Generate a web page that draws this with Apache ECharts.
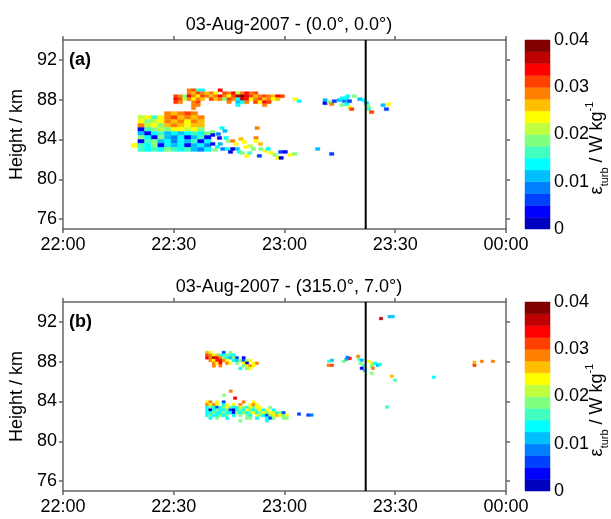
<!DOCTYPE html>
<html><head><meta charset="utf-8">
<script src="https://cdn.jsdelivr.net/npm/echarts@6/dist/echarts.min.js"></script>
<style>html,body{margin:0;padding:0;background:#fff;}#c{width:611px;height:519px;}</style>
</head><body><div id="c"></div>
<script>
// ---------- axes / labels ----------
const timeTicks = [0, 30, 60, 90, 120];            // minutes after 22:00
const timeLabels = ['22:00', '22:30', '23:00', '23:30', '00:00'];
const heightTicks = [76, 80, 84, 88, 92];
const heightMin = 75, heightMax = 94;
const epsTicks = [0, 0.01, 0.02, 0.03, 0.04];
const levelEdges = [0, 0.0025, 0.005, 0.0075, 0.01, 0.0125, 0.015, 0.0175, 0.02, 0.0225, 0.025, 0.0275, 0.03, 0.0325, 0.035, 0.0375, 0.04];
const markerTime = 82;                               // 23:22
const titleA = '03-Aug-2007 - (0.0°, 0.0°)';
const titleB = '03-Aug-2007 - (315.0°, 7.0°)';

// ---------- data: epsilon in 1e-3 W/kg (0 = no data) ----------
// Panel (a) lower block: [height, values from start time aLowT0]
const aLowT0 = 18.5;
const aLowRows = [
  [86.4, [0,0,0,0,0,29,26,29,31,29]],
  [86.0, [0,21,24,16,24,29,31,26,29,26,29]],
  [85.6, [0,24,19,21,24,29,26,29,24,29,26]],
  [85.2, [0,29,21,24,19,26,29,26,24,26,26]],
  [84.8, [0,4,16,19,21,19,24,24,21,24,19]],
  [84.4, [0,11,4,14,16,11,14,11,14,16,14,19]],
  [84.0, [0,19,14,4,19,11,9,14,4,11,16,4]],
  [83.6, [0,4,16,19,11,14,9,14,11,16,4,14]],
  [83.2, [24,16,14,19,4,14,11,14,4,11,14,9]],
  [82.8, [0,16,14,16,14,19,16,14,16,11,9,14]]
];
// Panel (a) upper band
const aUpT0 = 30;
const aUpRows = [
  [88.8, [0,0,0,29,31,16,14,0,0,0,34]],
  [88.5, [0,0,0,29,26,31,29,26,29,24,0,31,29,34,21,29,34,29,31]],
  [88.2, [31,29,19,34,29,24,31,29,26,29,34,29,24,31,36,39,34,31,26,29,31,29,26,34,31]],
  [87.9, [34,31,21,29,24,29,26,0,31,26,29,19,31,29,14,36,34,24,29,31,26,29,24,26]],
  [87.6, [31,29,0,0,29,31,0,0,0,0,0,0,29,0,11,14,29,0,31,24,34,31]],
  [87.3, [0,0,0,0,29,29,0,0,0,0,0,0,0,0,14,0,0,0,0,0,29]],
  [87.0, [0,0,0,0,29]]
];
// Panel (a) scattered cells: [time, height, value]
const aScatter = [
  [42.5,85.0,14],[43.3,84.7,11],[52.0,85.0,29],
  [40.0,84.6,19],[40.0,84.3,4],[41.5,84.4,9],
  [41.8,84.0,4],[43.6,84.0,14],[44.2,83.7,19],[45.4,83.7,29],[46.3,83.4,24],[47.6,83.9,26],[48.5,83.6,24],
  [40.0,83.4,4],[41.2,83.1,14],[40.6,82.8,19],[42.0,83.4,11],
  [42.7,82.9,9],[43.9,82.9,14],[44.8,82.6,4],
  [45.4,82.9,1],[46.6,82.9,11],[47.2,82.6,14],
  [49.0,83.1,24],[50.2,83.2,21],[51.0,82.9,19],
  [51.7,84.0,29],[51.7,83.7,24],[52.9,83.4,26],
  [53.0,82.9,19],[54.2,82.7,24],[55.0,82.9,14],
  [52.6,82.2,6],[55.7,82.5,24],[56.9,82.3,19],[57.5,82.0,24],
  [58.4,82.6,6],[59.6,82.6,4],[58.5,82.0,1],
  [61.0,82.3,24],[62.2,82.4,19],
  [48.0,82.5,19],[49.2,82.2,24],[50.0,82.5,16],
  [62.3,87.9,24],[63.4,87.7,14],
  [70.4,87.8,11],[70.4,87.5,4],[71.5,87.6,19],[72.2,87.4,29],[72.9,87.7,6],
  [74.2,87.8,11],[75.0,88.0,14],[75.6,87.7,9],[76.2,88.0,14],[75.0,87.3,19],[76.3,87.4,14],[77.0,87.7,6],[77.0,87.1,24],[77.6,86.9,31],[76.5,88.2,14],
  [78.3,88.2,19],[79.8,87.9,11],
  [81.0,87.8,14],[81.6,87.5,11],[82.0,87.2,19],[82.2,86.9,16],[83.0,86.6,31],
  [86.1,87.3,12],[87.6,87.4,24],[87.0,86.9,6],
  [68.4,82.9,12],[72.2,82.4,6]
];
// Panel (b) upper cluster
const bUpT0 = 38.6;
const bUpRows = [
  [88.79, [26,24,0,0,0,6,0,19]],
  [88.52, [31,29,24,26,16,14,19,16,14]],
  [88.25, [34,29,36,34,29,19,14,11,19,6,0,4]],
  [87.98, [0,29,24,34,34,29,24,0,14,11,19,6,19,24]],
  [87.71, [0,0,29,24,34,0,29,24,0,19,0,24,1,0,24,29]],
  [87.44, [0,0,29,0,29,0,0,0,0,0,0,19,24,29,24]],
  [87.17, [0,0,0,0,0,0,0,0,0,0,14,0,19,24]]
];
// Panel (b) lower band
const bLowT0 = 38.6;
const bLowRows = [
  [83.81, [24,29,0,24,0,6,0,0,0,0,0,29,0,0,24]],
  [83.54, [29,24,29,24,0,14,24,0,24,0,29,0,0,24,29,24]],
  [83.27, [14,19,14,6,14,19,24,19,14,14,24,19,14,24,19,24,24,0,0,19]],
  [83.00, [14,1,14,19,14,14,19,6,1,14,19,14,24,19,14,19,24,14,24,0,14]],
  [82.73, [14,14,19,14,14,19,14,14,4,19,14,19,14,19,24,14,19,24,19,24,24,14,19,6]],
  [82.46, [14,19,14,14,19,14,19,0,14,0,19,0,19,14,0,24,19,14,6,19,24,26,24,19,24]],
  [82.19, [0,14,0,19,0,0,14,0,0,0,0,0,19,19,0,14,0,0,14,6,19,0,0,19,19]],
  [81.92, [0,0,0,0,0,0,0,0,0,0,19,0,0,0,0,0,0,0,14]]
];
// Panel (b) scattered cells
const bScatter = [
  [45.0,84.9,29],[43.2,84.5,19],[46.2,84.2,34],
  [63.5,82.6,6],[66.0,82.5,6],[66.9,82.5,9],
  [71.6,87.9,16],[72.4,88.0,11],[71.5,87.5,29],[72.4,87.5,31],[75.6,87.9,19],[76.3,88.1,11],[77.2,88.2,34],[76.6,88.3,9],
  [79.5,88.4,29],[79.8,88.1,16],[80.5,88.0,11],[80.1,87.7,19],[81.0,87.5,16],[80.5,87.2,4],[81.3,87.0,11],
  [82.4,87.9,24],[83.2,87.7,21],[83.2,87.4,19],[84.1,87.7,14],[84.8,87.5,11],[85.4,87.6,14],[83.5,87.2,29],[83.2,86.7,19],
  [88.6,86.4,26],[89.5,86.0,16],[100.0,86.3,14],[87.3,83.3,16],
  [85.7,92.2,36],[88.0,92.4,11],[88.9,92.4,11],
  [111.0,87.8,26],[113.0,87.9,29],[111.0,87.5,31],[116.0,87.9,29]
];

// ---------- rendering ----------
const FONT = '"Liberation Sans", Arial, Helvetica, sans-serif';
const jet16 = ['#0000bf','#0000ff','#0040ff','#0080ff','#00bfff','#00ffff','#40ffbf','#80ff80',
               '#bfff40','#ffff00','#ffbf00','#ff8000','#ff4000','#ff0000','#bf0000','#800000'];
function colorOf(v) {
  for (let i = 0; i < 16; i++) if (v < levelEdges[i + 1]) return jet16[i];
  return jet16[15];
}
function blockData(t0, dt, rows) {
  const out = [];
  rows.forEach(r => r[1].forEach((v, j) => { if (v > 0) out.push([t0 + j * dt, r[0], v / 1000]); }));
  return out;
}
function scatterData(list) { return list.map(d => [d[0], d[1], d[2] / 1000]); }

function cellSeries(g, data, dt, dh) {
  return {
    type: 'custom', xAxisIndex: g * 2, yAxisIndex: g * 2, data: data, silent: true, animation: false,
    encode: { x: 0, y: 1 },
    renderItem: (p, api) => {
      const t = api.value(0), h = api.value(1), v = api.value(2);
      const a = api.coord([t, h + dh]), b = api.coord([t + dt, h]);
      return { type: 'rect', shape: { x: a[0], y: a[1], width: b[0] - a[0], height: b[1] - a[1] },
               style: { fill: colorOf(v), stroke: colorOf(v), lineWidth: 0.4 } };
    }
  };
}
function markerSeries(g) {
  return { type: 'line', xAxisIndex: g * 2, yAxisIndex: g * 2, silent: true, animation: false,
    data: [[markerTime, heightMin], [markerTime, heightMax]], symbol: 'none',
    lineStyle: { color: '#000', width: 2 }, z: 5 };
}
function colorbarSeries(idx) {
  const data = [];
  for (let i = 0; i < 16; i++) data.push([levelEdges[i], levelEdges[i + 1]]);
  return { type: 'custom', xAxisIndex: idx, yAxisIndex: idx, data: data, silent: true, animation: false,
    encode: { y: [0, 1] },
    renderItem: (p, api) => {
      const lo = api.value(0), hi = api.value(1);
      const a = api.coord([0, hi]), b = api.coord([1, lo]);
      return { type: 'rect', shape: { x: a[0], y: a[1], width: b[0] - a[0], height: b[1] - a[1] },
               style: { fill: colorOf((lo + hi) / 2), stroke: colorOf((lo + hi) / 2), lineWidth: 0.5 } };
    } };
}

const axisLineStyle = { color: '#666', width: 1.5 };
function xAxes(g) {
  const base = { type: 'value', gridIndex: g, min: timeTicks[0], max: timeTicks[timeTicks.length - 1], interval: 30,
    splitLine: { show: false }, axisLine: { onZero: false, lineStyle: axisLineStyle },
    axisTick: { length: 4, lineStyle: axisLineStyle } };
  return [
    Object.assign({}, base, { position: 'bottom',
      axisLabel: { fontFamily: FONT, fontSize: 18, color: '#000', margin: 7,
        formatter: v => timeLabels[timeTicks.indexOf(v)] } }),
    Object.assign({}, base, { position: 'top', axisLabel: { show: false } })
  ];
}
function yAxes(g) {
  const base = { type: 'value', gridIndex: g, min: heightMin, max: heightMax,
    splitLine: { show: false }, axisLine: { onZero: false, lineStyle: axisLineStyle },
    axisTick: { length: 4, lineStyle: axisLineStyle, customValues: heightTicks } };
  return [
    Object.assign({}, base, { position: 'left',
      axisLabel: { fontFamily: FONT, fontSize: 18, color: '#000', margin: 6, customValues: heightTicks },
      name: 'Height / km', nameLocation: 'middle', nameGap: 33, nameRotate: 90,
      nameTextStyle: { fontFamily: FONT, fontSize: 18, color: '#000' } }),
    Object.assign({}, base, { position: 'right', axisLabel: { show: false } })
  ];
}

const grids = [
  { left: 62, top: 40, width: 444, height: 189 },
  { left: 62, top: 302, width: 444, height: 189 },
  { left: 525, top: 40, width: 25, height: 189 },
  { left: 525, top: 302, width: 25, height: 189 }
];
const cbX = g => ({ type: 'value', gridIndex: g, min: 0, max: 1, show: false });
const cbY = g => ({ type: 'value', gridIndex: g, min: epsTicks[0], max: epsTicks[epsTicks.length - 1], interval: 0.01,
  position: 'right', splitLine: { show: false }, axisLine: { show: false }, axisTick: { show: false },
  axisLabel: { fontFamily: FONT, fontSize: 18, color: '#000', margin: 4,
    formatter: v => (v === 0 ? '0' : v.toFixed(2)) } });

const epsName = (y) => ({
  type: 'text', x: 597, y: y, rotation: Math.PI / 2, silent: true,
  style: {
    text: '{a|ε}{b|turb}{a| / W kg}{c|-1}',
    align: 'center', verticalAlign: 'middle', fill: '#000',
    rich: {
      a: { fontFamily: FONT, fontSize: 18, lineHeight: 26, verticalAlign: 'middle' },
      b: { fontFamily: FONT, fontSize: 11, lineHeight: 26, verticalAlign: 'bottom' },
      c: { fontFamily: FONT, fontSize: 11, lineHeight: 26, verticalAlign: 'top' }
    }
  }
});
const panelLabel = (txt, y) => ({ type: 'text', x: 69, y: y, silent: true,
  style: { text: txt, fontFamily: FONT, fontSize: 18, fontWeight: 'bold', fill: '#000', verticalAlign: 'top' } });

const chart = echarts.init(document.getElementById('c'), null, { renderer: 'canvas' });
chart.setOption({
  animation: false,
  backgroundColor: '#fff',
  title: [
    { text: titleA, left: 284, top: 11, textAlign: 'center',
      textStyle: { fontFamily: FONT, fontSize: 18, fontWeight: 'normal', color: '#000' } },
    { text: titleB, left: 284, top: 273, textAlign: 'center',
      textStyle: { fontFamily: FONT, fontSize: 18, fontWeight: 'normal', color: '#000' } }
  ],
  grid: grids,
  xAxis: [...xAxes(0), ...xAxes(1), cbX(2), cbX(3)],
  yAxis: [...yAxes(0), ...yAxes(1), cbY(2), cbY(3)],
  graphic: [panelLabel('(a)', 51), panelLabel('(b)', 313), epsName(148), epsName(410)],
  series: [
    cellSeries(0, blockData(aLowT0, 1.8, aLowRows), 1.8, 0.4),
    cellSeries(0, blockData(aUpT0, 1.2, aUpRows), 1.2, 0.3),
    cellSeries(0, scatterData(aScatter), 1.2, 0.3),
    markerSeries(0),
    cellSeries(1, blockData(bUpT0, 0.9, bUpRows), 0.9, 0.27),
    cellSeries(1, blockData(bLowT0, 0.9, bLowRows), 0.9, 0.27),
    cellSeries(1, scatterData(bScatter), 0.9, 0.27),
    markerSeries(1),
    colorbarSeries(4),
    colorbarSeries(5)
  ]
});
</script></body></html>
